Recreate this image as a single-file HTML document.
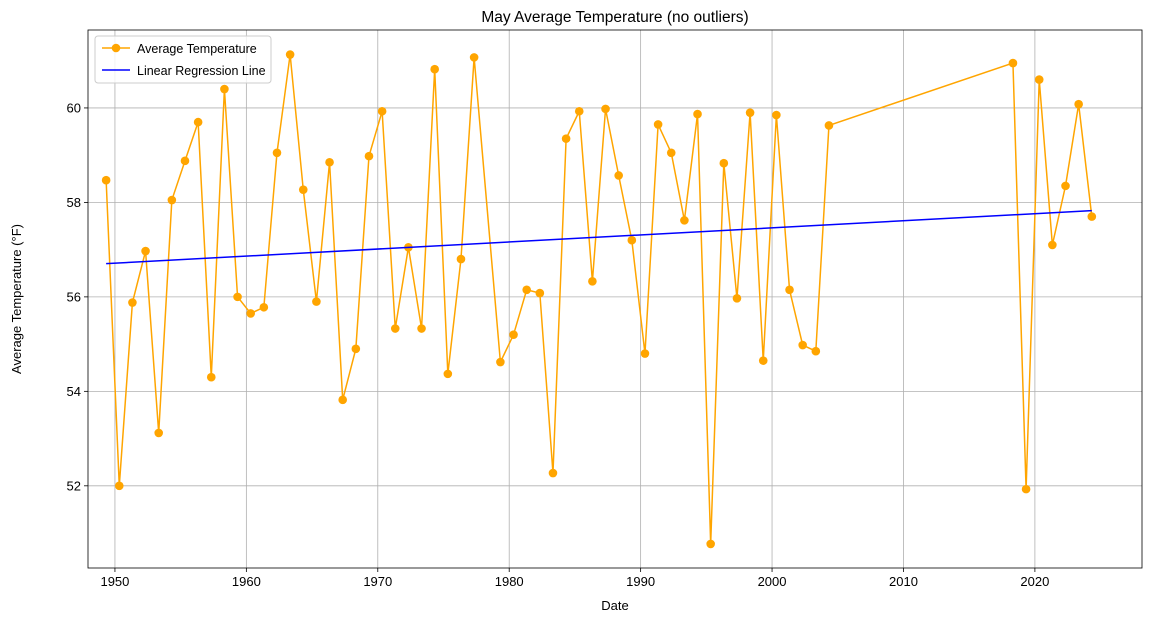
<!DOCTYPE html>
<html><head><meta charset="utf-8">
<style>
body{margin:0;background:#fff;}
svg{display:block;font-family:"Liberation Sans","DejaVu Sans",sans-serif;}
</style></head>
<body>
<svg id="chart" width="1152" height="622" viewBox="0 0 1152 622"></svg>
<script>
const years = [1949,1950,1951,1952,1953,1954,1955,1956,1957,1958,1959,1960,1961,1962,1963,1964,1965,1966,1967,1968,1969,1970,1971,1972,1973,1974,1975,1976,1977,1979,1980,1981,1982,1983,1984,1985,1986,1987,1988,1989,1990,1991,1992,1993,1994,1995,1996,1997,1998,1999,2000,2001,2002,2003,2004,2018,2019,2020,2021,2022,2023,2024];
const temps = [58.47,52.0,55.88,56.97,53.12,58.05,58.88,59.7,54.3,60.4,56.0,55.65,55.78,59.05,61.13,58.27,55.9,58.85,53.82,54.9,58.98,59.93,55.33,57.05,55.33,60.82,54.37,56.8,61.07,54.62,55.2,56.15,56.08,52.27,59.35,59.93,56.33,59.98,58.57,57.2,54.8,59.65,59.05,57.62,59.87,50.77,58.83,55.97,59.9,54.65,59.85,56.15,54.98,54.85,59.63,60.95,51.93,60.6,57.1,58.35,60.08,57.7];
const xTicks = [1950,1960,1970,1980,1990,2000,2010,2020];
const yTicks = [52,54,56,58,60];

const NS="http://www.w3.org/2000/svg";
const svg=document.getElementById('chart');
const L=88,R=1142,T=30,B=568;
const xMin=1947.95,xMax=2028.15,yMin=50.26,yMax=61.65;
const xs=d=>L+(d-xMin)/(xMax-xMin)*(R-L);
const ys=v=>B-(v-yMin)/(yMax-yMin)*(B-T);
const dateOf=y=>y+0.33;
function mk(tag,attrs,parent){const e=document.createElementNS(NS,tag);for(const k in attrs)e.setAttribute(k,attrs[k]);(parent||svg).appendChild(e);return e;}

const grid=mk('g',{});


xTicks.forEach(t=>{mk('line',{x1:xs(t),x2:xs(t),y1:T,y2:B,stroke:'#b0b0b0','stroke-width':0.8},grid);});
yTicks.forEach(t=>{mk('line',{x1:L,x2:R,y1:ys(t),y2:ys(t),stroke:'#b0b0b0','stroke-width':0.8},grid);});

const xa=mk('g',{});


xTicks.forEach(t=>{
  mk('line',{x1:xs(t),x2:xs(t),y1:B,y2:B+4,stroke:'#000','stroke-width':0.8},xa);
  const tx=mk('text',{x:xs(t),y:B+18,'text-anchor':'middle','font-size':13},xa);tx.textContent=t;
});
const ya=mk('g',{});


yTicks.forEach(t=>{
  mk('line',{x1:L-4,x2:L,y1:ys(t),y2:ys(t),stroke:'#000','stroke-width':0.8},ya);
  const tx=mk('text',{x:L-7,y:ys(t)+4.5,'text-anchor':'end','font-size':13},ya);tx.textContent=t;
});

const n=years.length;let sx=0,sy=0,sxx=0,sxy=0;
years.forEach((y,i)=>{const d=dateOf(y);sx+=d;sy+=temps[i];sxx+=d*d;sxy+=d*temps[i];});
const slope=(n*sxy-sx*sy)/(n*sxx-sx*sx),icpt=(sy-slope*sx)/n;
const d0=dateOf(years[0]),d1=dateOf(years[n-1]);

const line=mk('polyline',{points:years.map((y,i)=>xs(dateOf(y))+','+ys(temps[i])).join(' '),fill:'none',stroke:'orange','stroke-width':1.5});


years.forEach((y,i)=>{
  const c=mk('circle',{cx:xs(dateOf(y)),cy:ys(temps[i]),r:4.3,fill:'orange'});
  
  
});
const reg=mk('line',{x1:xs(d0),y1:ys(icpt+slope*d0),x2:xs(d1),y2:ys(icpt+slope*d1),stroke:'blue','stroke-width':1.5});



const fr=mk('rect',{x:L,y:T,width:R-L,height:B-T,fill:'none',stroke:'#000','stroke-width':0.8});



let t=mk('text',{x:(L+R)/2,y:22,'text-anchor':'middle','font-size':15.5});t.textContent='May Average Temperature (no outliers)';


t=mk('text',{x:(L+R)/2,y:610,'text-anchor':'middle','font-size':13});t.textContent='Date';


t=mk('text',{x:21,y:(T+B)/2,'text-anchor':'middle','font-size':13,transform:'rotate(-90 21 '+((T+B)/2)+')'});t.textContent='Average Temperature (°F)';



const lg=mk('g',{});


mk('rect',{x:95,y:36,width:176,height:47,rx:3,fill:'#fff','fill-opacity':0.8,stroke:'#ccc'},lg);
mk('line',{x1:102,x2:130,y1:48,y2:48,stroke:'orange','stroke-width':1.5},lg);
mk('circle',{cx:116,cy:48,r:4.3,fill:'orange'},lg);
let lt=mk('text',{x:137,y:53,'font-size':12.5},lg);lt.textContent='Average Temperature';


mk('line',{x1:102,x2:130,y1:70,y2:70,stroke:'blue','stroke-width':1.5},lg);
lt=mk('text',{x:137,y:75,'font-size':12.5},lg);lt.textContent='Linear Regression Line';


</script>
</body></html>
